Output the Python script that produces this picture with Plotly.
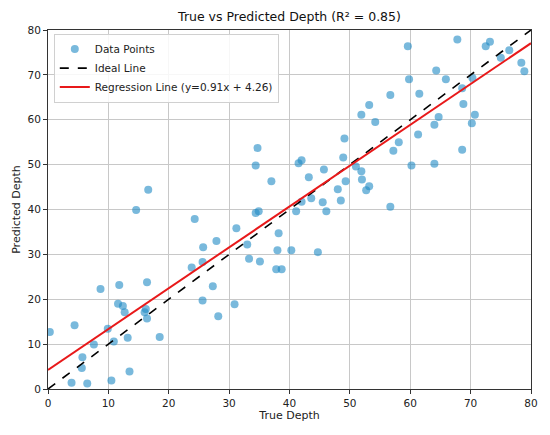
import plotly.graph_objects as go

# points
true_depth = [
    0.3, 4.4, 3.9, 6.5, 5.6, 5.7, 7.6, 9.9, 10.9, 10.5,
    8.7, 11.8, 11.6, 12.4, 12.7, 13.2, 13.5, 14.6, 16.6, 16.4,
    16.2, 16.0, 16.4, 18.5, 24.3, 25.7, 25.6, 23.8, 25.6, 27.3,
    34.7, 34.4, 37.0, 41.5, 42.0, 43.2, 45.7, 49.1, 48.9, 48.0,
    48.5, 49.3, 51.0, 51.9, 52.0, 52.7, 43.6, 42.0, 41.1, 45.5,
    46.1, 34.9, 34.4, 31.2, 38.2, 33.0, 27.9, 33.3, 35.1, 38.0,
    40.3, 44.7, 37.8, 38.7, 30.9, 28.2, 59.6, 67.8, 72.5, 73.2,
    76.4, 75.0, 78.4, 78.9, 64.3, 59.8, 65.9, 70.3, 68.6, 56.7,
    61.5, 53.2, 51.9, 68.8, 54.2, 64.7, 64.0, 70.7, 70.2, 61.3,
    58.1, 57.2, 68.6, 60.2, 64.0, 53.2, 56.7,
]
pred_depth = [
    12.7, 14.2, 1.4, 1.2, 4.7, 7.1, 9.9, 13.4, 10.6, 1.9,
    22.3, 23.2, 19.0, 18.5, 17.1, 11.4, 3.9, 39.9, 44.4, 23.8,
    17.8, 17.1, 15.7, 11.6, 37.9, 31.6, 28.3, 27.1, 19.7, 22.9,
    53.7, 49.8, 46.3, 50.3, 51.0, 47.2, 48.9, 55.8, 51.6, 44.5,
    42.0, 46.3, 49.6, 48.5, 46.7, 44.3, 42.5, 41.7, 39.6, 41.6,
    39.6, 39.6, 39.2, 35.8, 34.7, 32.2, 33.0, 29.0, 28.4, 30.9,
    30.9, 30.5, 26.7, 26.7, 18.9, 16.2, 76.4, 77.9, 76.4, 77.4,
    75.5, 73.8, 72.7, 70.8, 71.0, 69.0, 69.0, 69.3, 67.0, 65.5,
    65.8, 63.3, 61.1, 63.5, 59.5, 60.6, 58.9, 61.1, 59.2, 56.7,
    55.0, 53.1, 53.3, 49.8, 50.2, 45.2, 40.6,
]

slope = 0.91
intercept = 4.26
r2 = 0.85
line_x = [0, 80]
ticks = [0, 10, 20, 30, 40, 50, 60, 70, 80]

# page body has an 8px margin, so the figure is drawn a bit smaller
W, H = 542, 427

fig = go.Figure()

fig.add_trace(go.Scatter(
    x=true_depth, y=pred_depth, mode="markers",
    name="Data Points",
    marker=dict(size=8, color="#1f8ac4", opacity=0.6, line=dict(width=0)),
))
fig.add_trace(go.Scatter(
    x=line_x, y=line_x, mode="lines",
    name="Ideal Line",
    line=dict(color="black", width=1.6, dash="dash"),
))
fig.add_trace(go.Scatter(
    x=line_x, y=[slope * v + intercept for v in line_x], mode="lines",
    name=f"Regression Line (y={slope:.2f}x + {intercept:.2f})",
    line=dict(color="#e8191a", width=2),
))

axis_style = dict(
    range=[0, 80], tickvals=ticks,
    showgrid=True, gridcolor="#c8c8c8", gridwidth=1,
    showline=True, linecolor="#333", linewidth=1, mirror=True,
    ticks="outside", ticklen=4, tickcolor="#333",
    zeroline=False, automargin=False,
    tickfont=dict(size=10.5, color="#222"),
)

fig.update_xaxes(**axis_style, title=dict(text="True Depth", font=dict(size=11, color="#222"), standoff=2))
fig.update_yaxes(**axis_style, title=dict(text="Predicted Depth", font=dict(size=11, color="#222"), standoff=4))

fig.update_layout(
    width=W, height=H,
    margin=dict(l=40, r=19, t=22, b=46),
    paper_bgcolor="white", plot_bgcolor="white",
    font=dict(family="DejaVu Sans", color="#222"),
    title=dict(
        text=f"True vs Predicted Depth (R² = {r2:.2f})",
        x=0.5, xref="paper", xanchor="center",
        y=1 - 9 / H, yref="container", yanchor="middle",
        font=dict(size=12.5, color="#111"),
    ),
    legend=dict(
        x=0.012, y=0.99, xanchor="left", yanchor="top",
        bgcolor="rgba(255,255,255,0.85)", bordercolor="#d0d0d0", borderwidth=1,
        font=dict(size=10.5, color="#222"),
        tracegroupgap=0, itemwidth=30,
    ),
)

fig.write_html("out.html")
